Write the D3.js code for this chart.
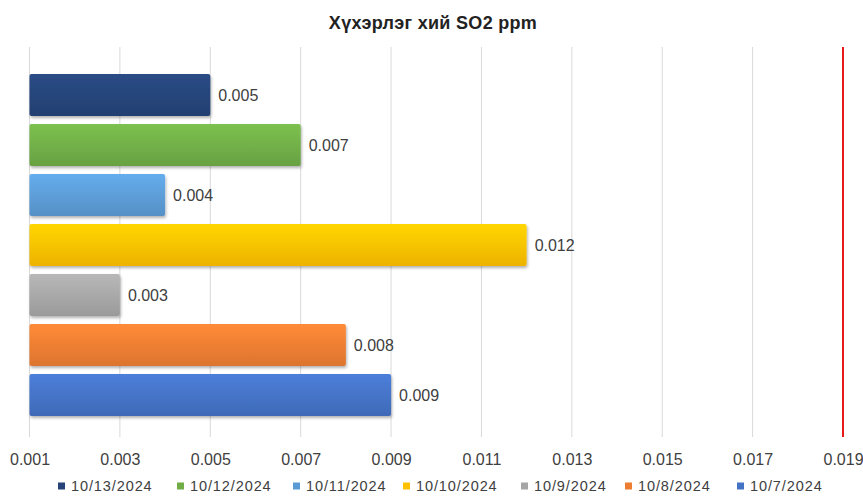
<!DOCTYPE html>
<html>
<head>
<meta charset="utf-8" />
<script src="https://d3js.org/d3.v7.min.js"></script>
<style>
  body { margin: 0; background: #fff; }
  svg { display: block; font-family: "Liberation Sans", Arial, sans-serif; }
</style>
</head>
<body>
<svg></svg>
<script>
const dates = ['10/13/2024', '10/12/2024', '10/11/2024', '10/10/2024', '10/9/2024', '10/8/2024', '10/7/2024']
const values = [0.005, 0.007, 0.004, 0.012, 0.003, 0.008, 0.009]
const colors = ['#264478', '#70ad47', '#5b9bd5', '#ffc000', '#a5a5a5', '#ed7d31', '#4472c4']
const ticks = [0.001, 0.003, 0.005, 0.007, 0.009, 0.011, 0.013, 0.015, 0.017, 0.019]
const limit = 0.019

const width = 863
const height = 497
const svg = d3.select('svg').attr('width', width).attr('height', height)

const x = d3.scaleLinear().domain([0.001, 0.019]).range([29.5, 843])
const y = d3.scaleBand().domain(dates).range([70, 420]).paddingInner(0.16).paddingOuter(0.08)

// gradients + shadow
const defs = svg.append('defs')
colors.forEach((c, i) => {
  const g = defs.append('linearGradient').attr('id', 'g' + i)
    .attr('x1', 0).attr('y1', 0).attr('x2', 0).attr('y2', 1)
  g.append('stop').attr('offset', '0%').attr('stop-color', d3.color(c).brighter(0.3))
  g.append('stop').attr('offset', '100%').attr('stop-color', d3.color(c).darker(0.2))
})
const f = defs.append('filter').attr('id', 'sh').attr('x', '-5%').attr('y', '-20%').attr('width', '110%').attr('height', '150%')
f.append('feDropShadow').attr('dx', 1).attr('dy', 2).attr('stdDeviation', 1.5).attr('flood-opacity', 0.3)

svg.append('text')
  .attr('x', 433).attr('y', 29)
  .attr('text-anchor', 'middle')
  .style('font-size', '18px').style('font-weight', 'bold').style('fill', '#222')
  .style('letter-spacing', '0.3px')
  .text('Хүхэрлэг хий SO2 ppm')

// grid
svg.append('g').selectAll('line').data(ticks.slice(0, -1)).join('line')
  .attr('x1', d => x(d)).attr('x2', d => x(d))
  .attr('y1', 47).attr('y2', 437)
  .style('stroke', '#d9d9d9').style('stroke-width', 1)

// axis labels
const axis = svg.append('g').attr('transform', 'translate(0,451)')
  .call(d3.axisBottom(x).tickValues(ticks).tickFormat(d3.format('.3f')).tickSize(0))
axis.select('.domain').remove()
axis.selectAll('text').style('font-size', '16px').style('fill', '#404040')
  .style('font-family', '"Liberation Sans", Arial, sans-serif')

// bars
svg.append('g').selectAll('rect').data(values).join('rect')
  .attr('x', x(0.001))
  .attr('y', (d, i) => y(dates[i]))
  .attr('width', d => x(d) - x(0.001))
  .attr('height', y.bandwidth())
  .attr('rx', 2)
  .attr('fill', (d, i) => 'url(#g' + i + ')')
  .attr('filter', 'url(#sh)')

svg.append('g').selectAll('text').data(values).join('text')
  .attr('x', d => x(d) + 8)
  .attr('y', (d, i) => y(dates[i]) + y.bandwidth() / 2)
  .attr('dy', '0.35em')
  .style('font-size', '16px').style('fill', '#404040')
  .text(d => d3.format('.3f')(d))

// limit line
svg.append('line')
  .attr('x1', x(limit)).attr('x2', x(limit))
  .attr('y1', 47).attr('y2', 437)
  .style('stroke', '#e8191b').style('stroke-width', 2)

// legend
const legX = [58, 177, 293, 403, 521, 625, 737]
const leg = svg.append('g').selectAll('g').data(dates).join('g')
  .attr('transform', (d, i) => `translate(${legX[i]},486)`)
leg.append('rect').attr('x', 0).attr('y', -3.5).attr('width', 7).attr('height', 7)
  .attr('fill', (d, i) => colors[i])
leg.append('text').attr('x', 13).attr('dy', '0.35em')
  .style('font-size', '14.5px').style('fill', '#404040').style('letter-spacing', '0.9px')
  .text(d => d)
</script>
</body>
</html>
